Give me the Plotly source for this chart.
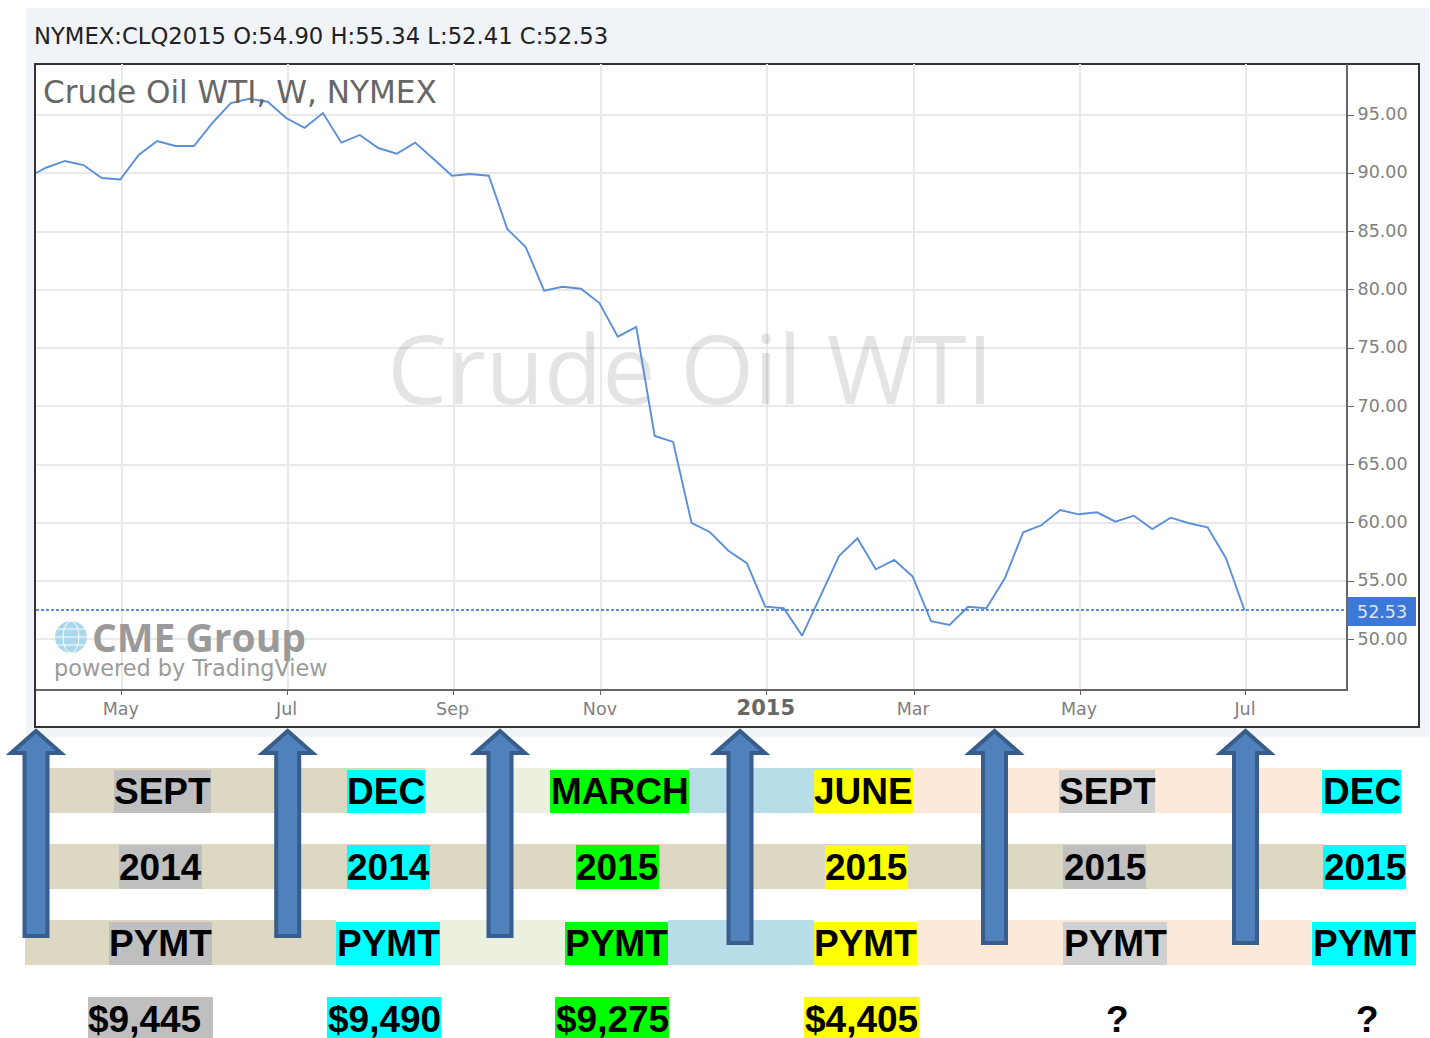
import pandas as pd
import plotly.graph_objects as go

W, H = 1430, 1038
L, R, T, B = 36, 1346, 64, 689

# ---- data ----
weeks = pd.date_range(end="2015-06-29", periods=67, freq="7D")
close = [89.68, 90.50, 91.06, 90.71, 89.60, 89.47, 91.57, 92.77, 92.34, 92.34,
         94.32, 96.03, 96.40, 96.14, 94.74, 93.91, 95.17, 92.63, 93.29, 92.17,
         91.68, 92.63, 91.23, 89.79, 89.94, 89.79, 85.22, 83.68, 79.93, 80.27,
         80.10, 78.87, 75.98, 76.81, 67.46, 66.95, 60.00, 59.20, 57.62, 56.54,
         52.81, 52.68, 50.33, 53.76, 57.16, 58.68, 56.02, 56.82, 55.39, 51.56,
         51.24, 52.81, 52.68, 55.25, 59.20, 59.82, 61.11, 60.74, 60.91, 60.11,
         60.62, 59.48, 60.45, 59.97, 59.63, 56.97, 52.53]
last_price = 52.53
x_tick_dates = ["2014-04-28 14:00", "2014-06-30 14:00", "2014-09-01 14:00", "2014-10-27 14:00",
                "2014-12-29 14:00", "2015-02-23 14:00", "2015-04-27 14:00", "2015-06-29 14:00"]
x_tick_text = ["May", "Jul", "Sep", "Nov",
               '<b><span style="font-size:21px;color:#666666">2015</span></b>',
               "Mar", "May", "Jul"]
y_ticks = [50, 55, 60, 65, 70, 75, 80, 85, 90, 95]
header = "NYMEX:CLQ2015 O:54.90 H:55.34 L:52.41 C:52.53"
title = "Crude Oil WTI, W, NYMEX"
watermark = "Crude Oil WTI"

BEIGE, PALE, BLUE, PEACH = "#ddd8c2", "#ebf1de", "#b7dde8", "#fde9d9"
GRAY, LGRAY, CYAN, LIME, YEL = "#bfbfbf", "#d0d0d0", "#00ffff", "#00ff00", "#ffff00"

# (x0, x1, colour) bands per row
band_row1 = [(25, 425, BEIGE), (425, 689, PALE), (689, 913, BLUE), (913, 1322, PEACH)]
band_row2 = [(25, 1323, BEIGE)]
band_row3 = [(25, 336, BEIGE), (440, 565, PALE), (668, 814, BLUE), (917, 1312, PEACH)]

# (label, box x0, box x1, box colour, label centre)
row1 = [("SEPT", 114, 211, GRAY, 162.5), ("DEC", 347, 425, CYAN, 386), ("MARCH", 550, 689, LIME, 619.5),
        ("JUNE", 814, 913, YEL, 863.5), ("SEPT", 1059, 1155, LGRAY, 1107), ("DEC", 1322, 1401, CYAN, 1361.5)]
row2 = [("2014", 119, 202, GRAY, 160.5), ("2014", 347, 430, CYAN, 388), ("2015", 576, 659, LIME, 617),
        ("2015", 825, 908, YEL, 866), ("2015", 1063, 1146, GRAY, 1104.5), ("2015", 1323, 1406, CYAN, 1364.5)]
row3 = [("PYMT", 109, 212, GRAY, 160.5), ("PYMT", 336, 440, CYAN, 388.5), ("PYMT", 565, 668, LIME, 616.5),
        ("PYMT", 814, 917, YEL, 865.5), ("PYMT", 1063, 1167, LGRAY, 1115), ("PYMT", 1312, 1416, CYAN, 1364)]
row4 = [("$9,445", 88, 213, GRAY, 144.5), ("$9,490", 327, 441, CYAN, 384), ("$9,275", 555, 669, LIME, 612),
        ("$4,405", 804, 919, YEL, 861.5), ("?", 1105, 1129, None, 1117), ("?", 1355, 1379, None, 1367)]

arrow_cx = [36, 287.7, 500, 740, 994.5, 1245.5]
arrow_bottom = [936, 936, 936, 943, 943, 943]


def px(x):
    return (x - L) / (R - L)


def py(y):
    return (B - y) / (B - T)


shapes, ann = [], []


def rect(x0, y0, x1, y1, fill, line=None, lw=0, layer="below"):
    shapes.append(dict(type="rect", xref="paper", yref="paper", layer=layer,
                       x0=px(x0), x1=px(x1), y0=py(y0), y1=py(y1), fillcolor=fill,
                       line=dict(color=line or fill, width=lw)))


def text(x, y, s, size, color, font, xanchor="left", yanchor="middle"):
    ann.append(dict(xref="paper", yref="paper", x=px(x), y=py(y), text=s, showarrow=False,
                    xanchor=xanchor, yanchor=yanchor, borderpad=0, align="left",
                    font=dict(size=size, color=color, family=font)))


# panel and chart frame
rect(26, 8, 1429, 737, "#f0f3f7")
rect(35, 64, 1419, 727, "#ffffff", "#333333", 2)
# price label box
rect(1347, 597, 1416, 626, "#3b78d8", layer="above")

text(33, 36, header, 22.7, "#222222", "DejaVu Sans")
text(42, 92, title, 31.1, "#666666", "DejaVu Sans")
text(91, 636, "<b>CME Group</b>", 39, "#9a9a9a", "Open Sans")
text(53, 668, "powered by TradingView", 22.4, "#9a9a9a", "DejaVu Sans")
text(1356, 612, f"{last_price:.2f}", 17.5, "#dce6f7", "DejaVu Sans")

# globe logo
rect_globe = dict(type="circle", xref="paper", yref="paper", layer="above",
                  x0=px(55), x1=px(87), y0=py(621), y1=py(653),
                  fillcolor="#a9d8ec", line=dict(color="#a9d8ec", width=0))
shapes.append(rect_globe)
for y in (629, 637, 645):
    shapes.append(dict(type="line", xref="paper", yref="paper", layer="above",
                       x0=px(55), x1=px(87), y0=py(y), y1=py(y),
                       line=dict(color="#ffffff", width=1)))
shapes.append(dict(type="circle", xref="paper", yref="paper", layer="above",
                   x0=px(63), x1=px(79), y0=py(621), y1=py(653),
                   fillcolor="rgba(0,0,0,0)", line=dict(color="#ffffff", width=1)))

# bands, highlights, labels
for bands, y0, y1 in ((band_row1, 768, 813), (band_row2, 844, 889), (band_row3, 920, 965)):
    for x0, x1, c in bands:
        rect(x0, y0, x1, y1, c)
for row, y0, y1, yc in ((row1, 770, 813, 791), (row2, 845, 889, 867),
                        (row3, 922, 965, 943), (row4, 997, 1038, 1019)):
    for s, x0, x1, c, tx in row:
        if c:
            rect(x0, y0, x1, y1, c)
        text(tx, yc, f"<b>{s}</b>", 37, "#000000", "Liberation Sans", xanchor="center")

# block arrows
for cx, bot in zip(arrow_cx, arrow_bottom):
    pts = [(cx, 731), (cx + 25, 753), (cx + 11.5, 753), (cx + 11.5, bot),
           (cx - 11.5, bot), (cx - 11.5, 753), (cx - 25, 753)]
    path = "M " + " L ".join(f"{px(a):.5f},{py(b):.5f}" for a, b in pts) + " Z"
    shapes.append(dict(type="path", xref="paper", yref="paper", layer="above", path=path,
                       fillcolor="#4f81bd", line=dict(color="#385d8a", width=4)))

# last price dotted line
shapes.append(dict(type="line", xref="paper", yref="y", layer="above", x0=0, x1=1,
                   y0=last_price, y1=last_price,
                   line=dict(color="#2a6ad6", width=1.5, dash="3px,2px")))

fig = go.Figure()
fig.add_trace(go.Scatter(x=["2014-11-30 12:00"], y=[72.24], mode="text", text=[watermark],
                         textposition="middle center", hoverinfo="skip",
                         textfont=dict(size=95, family="Open Sans", color="rgba(0,0,0,0.105)")))
fig.add_trace(go.Scatter(x=weeks, y=close, mode="lines", hoverinfo="skip",
                         line=dict(color="#5b8fdc", width=1.9)))

fig.update_layout(
    width=W, height=H, autosize=False, showlegend=False,
    margin=dict(l=L, r=W - R, t=T, b=H - B, pad=0),
    paper_bgcolor="#ffffff", plot_bgcolor="#ffffff",
    shapes=shapes, annotations=ann,
    xaxis=dict(type="date", range=["2014-03-27", "2015-08-06 14:00"], tickmode="array",
               tickvals=x_tick_dates, ticktext=x_tick_text, showgrid=True,
               gridcolor="#e9e9e9", gridwidth=1.5, zeroline=False, showline=True,
               linecolor="#666666", linewidth=2, ticks="outside", ticklen=4,
               tickcolor="#666666", ticklabelshift=-1, ticklabelstandoff=-1,
               tickfont=dict(size=17.5, color="#808080", family="DejaVu Sans")),
    yaxis=dict(side="right", range=[45.75, 99.38], tickmode="array", tickvals=y_ticks,
               ticktext=[f"{v:.2f}" for v in y_ticks], showgrid=True, gridcolor="#e9e9e9",
               gridwidth=1.5, zeroline=False, showline=True, linecolor="#666666", linewidth=2,
               ticks="outside", ticklen=6, tickcolor="#666666", ticklabelshift=-1,
               tickfont=dict(size=17.5, color="#808080", family="DejaVu Sans")),
)

fig.write_html("out.html", config=dict(displayModeBar=False),
               post_script="document.body.style.margin='0';document.body.style.overflow='hidden';")
